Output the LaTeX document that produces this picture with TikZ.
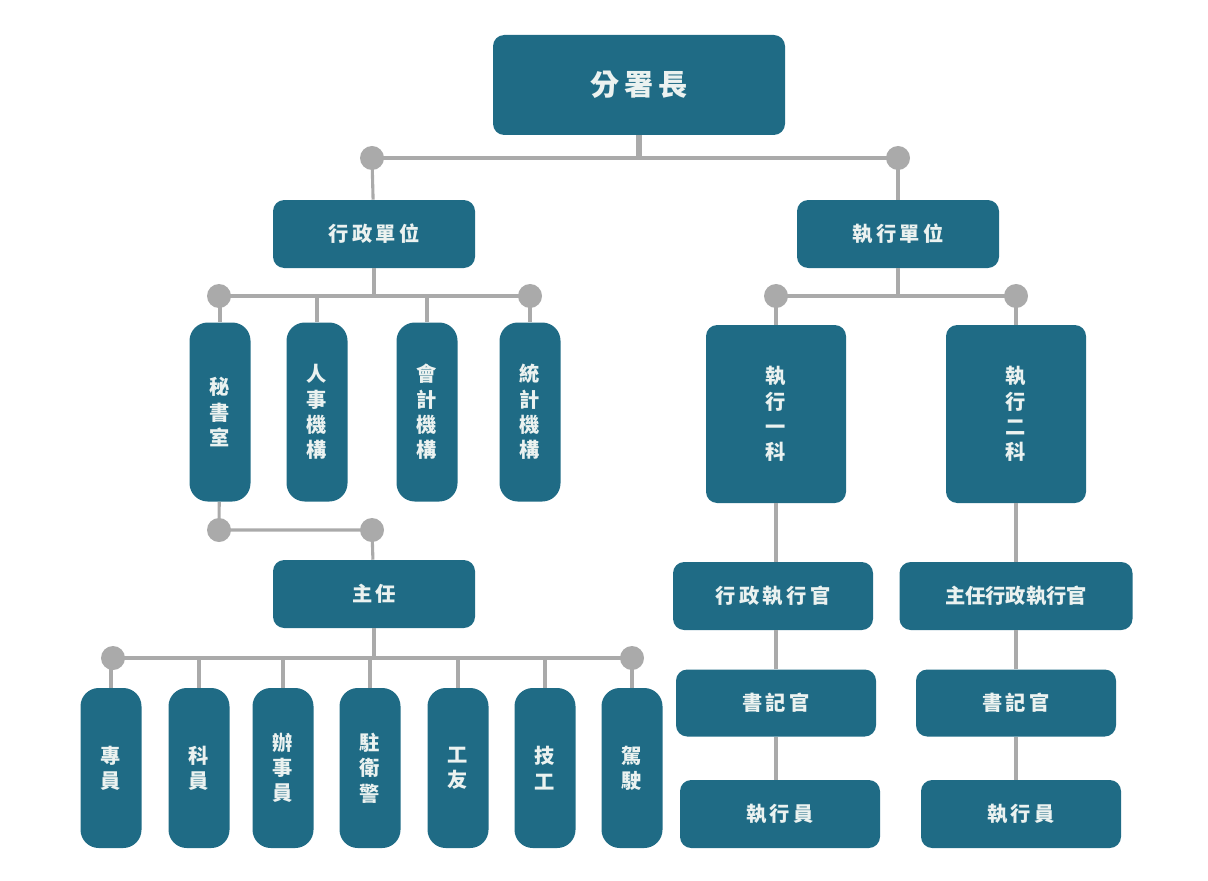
\documentclass[tikz,border=0pt]{standalone}
\usepackage{fontspec}
\newfontfamily\cjk{Noto Sans CJK TC}
\begin{document}
\begin{tikzpicture}[x=0.025cm,y=-0.025cm]
  \tikzstyle{unit}=[rounded corners=8pt, fill={rgb,255:red,31;green,107;blue,133}, text={rgb,255:red,235;green,242;blue,240}, font=\cjk\Large\bfseries, inner sep=0, align=center];
  \tikzstyle{pill}=[unit, rounded corners=13pt, minimum width=61*0.025cm];
  \tikzstyle{link}=[draw={rgb,255:red,170;green,170;blue,170}, line width=2.2pt];
  \tikzstyle{dot}=[circle, fill={rgb,255:red,170;green,170;blue,170}, minimum size=0.6cm, inner sep=0];

  \useasboundingbox (0,0) rectangle (1208,880);

  % nodes
  \node[unit, minimum width=292*0.025cm, minimum height=100*0.025cm, font=\cjk\huge\bfseries] (chief) at (639,85) {分\,署\,長};
  \node[unit, minimum width=202*0.025cm, minimum height=68*0.025cm] (admin) at (374,234) {行\,政\,單\,位};
  \node[unit, minimum width=202*0.025cm, minimum height=68*0.025cm] (exec) at (898,234) {執\,行\,單\,位};
  \node[pill, minimum height=179*0.025cm] (sec) at (220,412) {秘\\書\\室};
  \node[pill, minimum height=179*0.025cm] (hr) at (317,412) {人\\事\\機\\構};
  \node[pill, minimum height=179*0.025cm] (acc) at (427,412) {會\\計\\機\\構};
  \node[pill, minimum height=179*0.025cm] (stat) at (530,412) {統\\計\\機\\構};
  \node[unit, minimum width=202*0.025cm, minimum height=68*0.025cm] (head) at (374,594) {主\,任};
  \foreach \x/\n/\t in {111/s1/專\\員, 199/s2/科\\員, 283/s3/辦\\事\\員, 370/s4/駐\\衛\\警, 458/s5/工\\友, 545/s6/技\\工, 632/s7/駕\\駛}
    \node[pill, minimum height=160*0.025cm] (\n) at (\x,768) {\t};
  \node[unit, minimum width=140*0.025cm, minimum height=178*0.025cm] (sec1) at (776,414) {執\\行\\一\\科};
  \node[unit, minimum width=140*0.025cm, minimum height=178*0.025cm] (sec2) at (1016,414) {執\\行\\二\\科};
  \node[unit, minimum width=200*0.025cm, minimum height=68*0.025cm] (off1) at (773,596) {行\,政\,執\,行\,官};
  \node[unit, minimum width=233*0.025cm, minimum height=68*0.025cm] (off2) at (1016,596) {主任行政執行官};
  \node[unit, minimum width=200*0.025cm, minimum height=67*0.025cm] (clk1) at (776,703) {書\,記\,官};
  \node[unit, minimum width=200*0.025cm, minimum height=67*0.025cm] (clk2) at (1016,703) {書\,記\,官};
  \node[unit, minimum width=200*0.025cm, minimum height=68*0.025cm] (ex1) at (780,814) {執\,行\,員};
  \node[unit, minimum width=200*0.025cm, minimum height=68*0.025cm] (ex2) at (1021,814) {執\,行\,員};

  % junctions
  \coordinate (t0) at (639,158);
  \coordinate (tL) at (372,158);
  \coordinate (tR) at (898,158);
  \coordinate (aL) at (219,296);
  \coordinate (aR) at (530,296);
  \coordinate (eL) at (776,296);
  \coordinate (eR) at (1016,296);
  \coordinate (hL) at (219,530);
  \coordinate (hR) at (372,530);
  \coordinate (bL) at (113,658);
  \coordinate (bR) at (632,658);

  % connectors
  \draw[link, line width=4pt] (chief) -- (t0);
  \draw[link] (tL) -- (tR);
  \draw[link] (tL) -- (admin);
  \draw[link] (tR) -- (exec);
  \draw[link] (aL) -- (aR);
  \draw[link] (admin) -- (admin|-aL);
  \foreach \n in {sec,hr,acc,stat} \draw[link] (\n|-aL) -- (\n);
  \draw[link] (sec) -- (hL) -- (hR) -- (head);
  \draw[link] (bL) -- (bR);
  \draw[link] (head) -- (head|-bL);
  \foreach \n in {s1,s2,s3,s4,s5,s6,s7} \draw[link] (\n|-bL) -- (\n);
  \draw[link] (eL) -- (eR);
  \draw[link] (exec) -- (exec|-eL);
  \draw[link] (eL) -- (sec1);
  \draw[link] (eR) -- (sec2);
  \draw[link] (sec1) -- (sec1|-off1.north);
  \draw[link] (sec2) -- (off2);
  \draw[link] (off1.south-|clk1) -- (clk1);
  \draw[link] (off2) -- (clk2);
  \draw[link] (clk1) -- (clk1|-ex1.north);
  \draw[link] (clk2) -- (clk2|-ex2.north);
  \foreach \c in {tL,tR,aL,aR,eL,eR,hL,hR,bL,bR} \node[dot] at (\c) {};
\end{tikzpicture}
\end{document}
